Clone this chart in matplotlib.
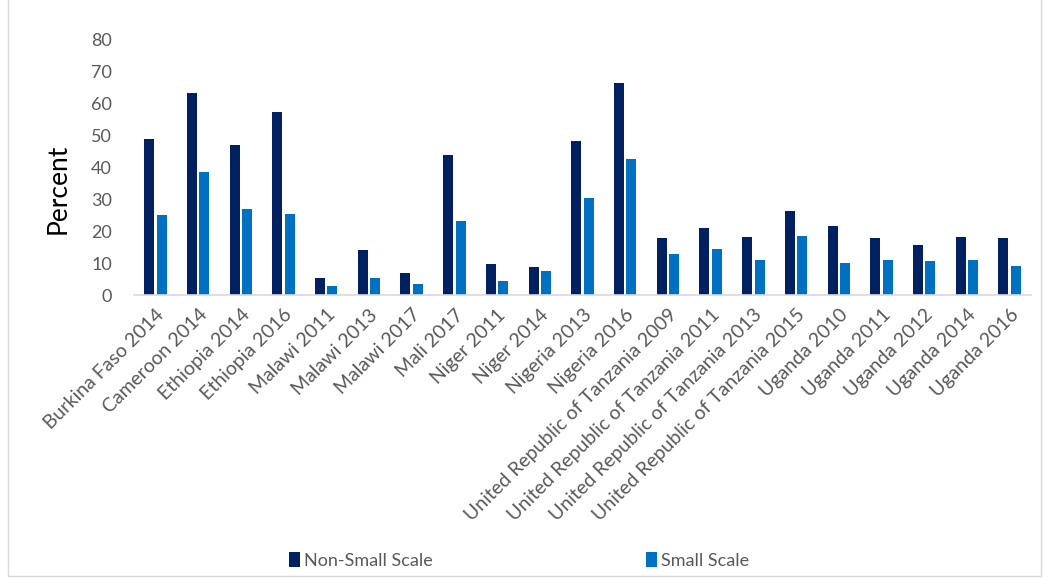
import matplotlib.pyplot as plt
import numpy as np
from matplotlib.patches import Rectangle

plt.rcParams['font.family'] = ['Lato', 'DejaVu Sans']

labels = ["Burkina Faso 2014", "Cameroon 2014", "Ethiopia 2014", "Ethiopia 2016",
          "Malawi 2011", "Malawi 2013", "Malawi 2017", "Mali 2017", "Niger 2011",
          "Niger 2014", "Nigeria 2013", "Nigeria 2016",
          "United Republic of Tanzania 2009", "United Republic of Tanzania 2011",
          "United Republic of Tanzania 2013", "United Republic of Tanzania 2015",
          "Uganda 2010", "Uganda 2011", "Uganda 2012", "Uganda 2014", "Uganda 2016"]
non_small = [48.8, 63.0, 46.9, 57.2, 5.3, 14.1, 6.8, 43.8, 9.7, 8.8, 48.2, 66.4,
             17.7, 20.9, 18.0, 26.1, 21.7, 17.7, 15.5, 18.0, 17.7]
small = [25.0, 38.4, 26.9, 25.2, 2.9, 5.2, 3.3, 23.1, 4.3, 7.5, 30.4, 42.5,
         12.7, 14.3, 10.8, 18.3, 10.1, 10.9, 10.5, 10.8, 9.1]

fig = plt.figure(figsize=(10.43, 5.78), dpi=100)
ax = fig.add_axes([0.1285, 0.4896, 0.86, 0.4429])

x = np.arange(len(labels))
w = 0.235
ax.bar(x - 0.145, non_small, w, color='#002060', label='Non-Small Scale')
ax.bar(x + 0.145, small, w, color='#0070C0', label='Small Scale')

ax.set_xlim(-0.5, len(labels) - 0.5)
ax.set_ylim(0, 80)
ax.set_yticks(range(0, 81, 10))
ax.set_xticks(x)
ax.set_xticklabels(labels, rotation=45, ha='right', rotation_mode='anchor')
ax.tick_params(axis='both', length=0, labelsize=13, colors='#595959')
ax.tick_params(axis='x', pad=8, labelsize=14)
ax.tick_params(axis='y', pad=16)
for s in ['top', 'right', 'left']:
    ax.spines[s].set_visible(False)
ax.spines['bottom'].set_color('#d9d9d9')
ax.spines['bottom'].set_linewidth(1.2)
ax.set_ylabel('Percent', fontsize=19, color='black')
ax.yaxis.set_label_coords(-0.071, 0.414)

fig.legend(loc='lower left', bbox_to_anchor=(0.2615, -0.012), ncol=2, frameon=False,
           fontsize=13, handlelength=0.6, handleheight=0.9, handletextpad=0.25,
           columnspacing=11.8, labelcolor='#595959')

fig.patches.append(Rectangle((0.008, 0.004), 0.99, 1.2, transform=fig.transFigure,
                             fill=False, edgecolor='#d9d9d9', linewidth=1))

fig.savefig('out.png', dpi=100)
